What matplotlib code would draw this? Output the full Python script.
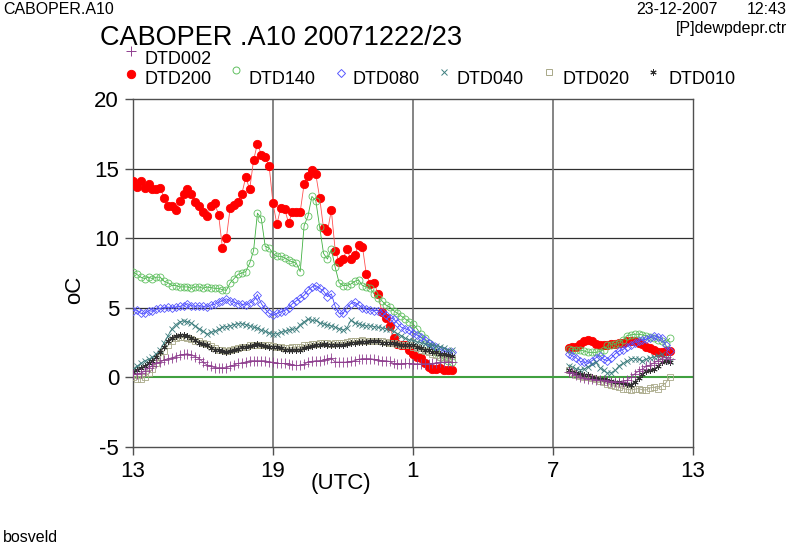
import numpy as np
import matplotlib
matplotlib.use("Agg")
import matplotlib.pyplot as plt
from matplotlib.lines import Line2D

plt.rcParams['font.family'] = ['Liberation Sans', 'DejaVu Sans']
plt.rcParams['axes.unicode_minus'] = False

# tijd: minuten na 13 UTC, stappen van 10 minuten
step_min = 10
start_left = 0        # 13:00
start_right = 1120    # 07:40 volgende dag

dtd200_l = [14.1, 13.7, 14.1, 13.6, 13.9, 13.5, 13.5, 13.6, 12.9, 12.3,
            12.3, 12.0, 12.7, 13.2, 13.5, 13.2, 12.6, 12.3, 11.9, 11.6,
            12.3, 12.5, 11.7, 9.3, 10.0, 12.2, 12.4, 12.6, 13.2, 14.4,
            13.5, 15.6, 16.8, 16.0, 15.8, 15.2, 12.5, 11.0, 12.2, 12.1,
            11.1, 11.9, 11.9, 11.9, 13.9, 14.5, 14.9, 14.6, 12.9, 10.7,
            10.5, 12.0, 9.1, 8.3, 8.5, 9.2, 8.5, 8.8, 9.5, 9.4,
            7.4, 6.7, 6.8, 6.0, 4.7, 4.3, 3.7, 2.8, 2.4, 2.35,
            2.3, 2.0, 1.7, 1.46, 1.4, 1.0, 0.74, 0.6, 0.6, 0.67,
            0.5, 0.5, 0.5]
dtd140_l = [7.6, 7.4, 7.2, 7.1, 7.2, 7.1, 7.2, 7.2, 6.9, 6.8,
            6.6, 6.6, 6.5, 6.5, 6.5, 6.4, 6.5, 6.5, 6.4, 6.5,
            6.45, 6.4, 6.4, 6.3, 6.25, 6.8, 7.1, 7.4, 7.5, 7.6,
            8.2, 9.1, 11.8, 11.4, 9.4, 9.3, 8.9, 8.7, 8.7, 8.6,
            8.4, 8.3, 8.2, 7.6, 10.9, 11.6, 13.0, 12.7, 10.8, 8.9,
            8.5, 9.2, 7.9, 6.8, 6.6, 6.6, 6.7, 6.9, 7.0, 6.6,
            6.5, 6.4, 6.0, 5.7, 5.5, 5.2, 5.05, 4.8, 4.6, 4.4,
            4.2, 4.0, 3.85, 3.5, 3.1, 2.8, 2.5, 2.1, 1.8, 1.5,
            1.3, 1.2, 1.1]
dtd080_l = [4.8, 4.85, 4.6, 4.6, 4.8, 4.75, 4.9, 4.95, 5.0, 5.05,
            5.0, 5.05, 5.1, 5.15, 5.3, 5.15, 5.1, 5.15, 5.1, 5.05,
            5.2, 5.25, 5.4, 5.5, 5.65, 5.5, 5.4, 5.3, 5.25, 5.2,
            5.35, 5.5, 5.95, 5.3, 4.9, 4.6, 4.45, 4.6, 4.7, 4.8,
            5.0, 5.3, 5.5, 5.7, 5.9, 6.25, 6.5, 6.6, 6.4, 6.2,
            5.8, 6.0, 5.1, 4.6, 4.6, 5.0, 5.3, 5.4, 5.2, 5.0,
            4.9, 4.85, 4.8, 4.8, 4.7, 4.5, 4.3, 4.2, 3.9, 3.6,
            3.5, 3.4, 3.2, 3.05, 2.9, 2.7, 2.5, 2.35, 2.2, 2.0,
            1.9, 1.85, 1.8]
dtd040_l = [0.6, 0.8, 1.0, 1.2, 1.3, 1.45, 1.7, 2.0, 2.5, 3.0,
            3.5, 3.8, 4.0, 4.05, 4.0, 3.9, 3.7, 3.5, 3.3, 3.1,
            3.25, 3.3, 3.45, 3.6, 3.65, 3.7, 3.8, 3.85, 3.85, 3.8,
            3.7, 3.6, 3.55, 3.4, 3.3, 3.2, 3.1, 3.15, 3.25, 3.3,
            3.4, 3.45, 3.5, 3.8, 4.0, 4.2, 4.1, 4.1, 3.9, 3.85,
            3.75, 3.7, 3.6, 3.5, 3.4, 3.55, 4.1, 3.9, 3.85, 3.75,
            3.7, 3.7, 3.65, 3.6, 3.55, 3.5, 3.45, 3.3, 3.15, 3.0,
            2.8, 2.7, 2.65, 2.55, 2.5, 2.4, 2.35, 2.3, 2.25, 2.2,
            2.1, 2.0, 1.95]
dtd020_l = [0.0, -0.1, -0.1, 0.0, 0.3, 0.6, 1.0, 1.45, 1.9, 2.3,
            2.6, 2.8, 2.9, 2.9, 2.85, 2.75, 2.65, 2.6, 2.5, 2.4,
            2.25, 2.1, 1.95, 1.95, 1.9, 2.0, 2.06, 2.1, 2.15, 2.2,
            2.3, 2.3, 2.35, 2.3, 2.3, 2.3, 2.25, 2.2, 2.15, 2.1,
            2.1, 2.15, 2.2, 2.2, 2.3, 2.35, 2.4, 2.4, 2.45, 2.5,
            2.45, 2.4, 2.45, 2.5, 2.5, 2.55, 2.6, 2.6, 2.65, 2.7,
            2.65, 2.6, 2.65, 2.6, 2.6, 2.55, 2.5, 2.45, 2.4, 2.35,
            2.3, 2.3, 2.2, 2.1, 2.0, 1.9, 1.8, 1.7, 1.6, 1.5,
            1.45, 1.4, 1.35]
dtd010_l = [0.4, 0.55, 0.7, 0.85, 1.0, 1.2, 1.5, 1.85, 2.2, 2.6,
            2.85, 3.0, 3.05, 3.05, 3.0, 2.85, 2.7, 2.5, 2.4, 2.3,
            2.1, 2.0, 1.95, 1.9, 1.8, 1.9, 2.0, 2.05, 2.15, 2.2,
            2.25, 2.3, 2.4, 2.3, 2.25, 2.2, 2.2, 2.2, 2.1, 2.0,
            1.95, 1.95, 1.95, 2.0, 2.1, 2.2, 2.25, 2.3, 2.35, 2.4,
            2.35, 2.35, 2.3, 2.3, 2.3, 2.4, 2.45, 2.5, 2.55, 2.55,
            2.55, 2.6, 2.6, 2.6, 2.5, 2.5, 2.5, 2.45, 2.4, 2.3,
            2.35, 2.35, 2.3, 2.2, 2.1, 2.0, 1.95, 1.85, 1.8, 1.7,
            1.65, 1.6, 1.55]
dtd002_l = [0.25, 0.25, 0.3, 0.45, 0.65, 0.85, 1.0, 1.1, 1.25, 1.35,
            1.4, 1.5, 1.6, 1.65, 1.7, 1.6, 1.5, 1.35, 1.1, 0.9,
            0.8, 0.7, 0.7, 0.7, 0.7, 0.8, 0.9, 1.0, 1.05, 1.1,
            1.2, 1.2, 1.2, 1.2, 1.2, 1.1, 1.1, 1.0, 1.0, 1.0,
            0.98, 0.9, 0.86, 0.86, 0.95, 1.1, 1.15, 1.2, 1.2, 1.25,
            1.3, 1.4, 1.1, 1.1, 1.1, 1.1, 1.15, 1.2, 1.3, 1.35,
            1.35, 1.35, 1.3, 1.25, 1.2, 1.2, 1.15, 1.0, 0.98, 0.98,
            1.0, 1.0, 0.98, 0.98, 0.98, 0.98, 0.98, 1.0, 1.05, 1.1,
            1.1, 1.1, 1.1]

dtd200_r = [2.1, 2.2, 2.2, 2.4, 2.6, 2.7, 2.6, 2.4, 2.3, 2.3,
            2.3, 2.4, 2.4, 2.5, 2.5, 2.6, 2.6, 2.6, 2.5, 2.4,
            2.2, 2.1, 2.0, 1.8, 1.8, 1.9, 1.9]
dtd140_r = [2.05, 2.0, 2.0, 1.95, 1.9, 1.8, 1.8, 1.8, 1.85, 2.0,
            2.3, 2.35, 2.4, 2.5, 2.7, 3.0, 3.05, 3.1, 3.1, 3.05,
            3.0, 2.9, 2.8, 2.7, 2.6, 2.5, 2.8]
dtd080_r = [1.7, 1.55, 1.4, 1.15, 1.1, 1.0, 1.2, 1.4, 1.55, 1.3,
            1.2, 1.4, 1.7, 1.9, 2.0, 2.2, 2.35, 2.5, 2.6, 2.7,
            2.75, 2.85, 3.0, 2.9, 2.8, 2.3, 1.9]
dtd040_r = [0.85, 0.75, 0.6, 0.55, 0.6, 0.75, 0.95, 1.1, 0.7, 0.5,
            0.3, 0.35, 0.5, 0.85, 1.0, 1.15, 1.35, 1.35, 1.3, 1.2,
            1.3, 1.4, 1.45, 1.55, 1.7, 1.4, 1.2]
dtd020_r = [0.5, 0.35, 0.2, 0.1, 0.05, 0.0, -0.05, -0.15, -0.25, -0.35,
            -0.45, -0.55, -0.65, -0.7, -0.8, -0.85, -0.9, -0.85, -0.8, -0.9,
            -0.9, -0.75, -0.7, -0.8, -0.6, -0.4, 0.0]
dtd010_r = [0.5, 0.4, 0.3, 0.25, 0.2, 0.15, 0.05, -0.05, -0.1, -0.15,
            -0.2, -0.25, -0.3, -0.35, -0.4, -0.5, -0.55, -0.3, -0.05, 0.25,
            0.45, 0.55, 0.6, 0.8, 1.1, 1.2, 1.1]
dtd002_r = [0.4, 0.3, 0.15, 0.05, -0.05, -0.1, -0.15, -0.2, -0.2, -0.2,
            -0.25, -0.3, -0.3, -0.35, -0.3, -0.2, 0.0, 0.25, 0.45, 0.6,
            0.8, 0.9, 1.05, 1.2, 1.35, 1.45, 1.35]

names = ['DTD200', 'DTD140', 'DTD080', 'DTD040', 'DTD020', 'DTD010', 'DTD002']
left = [dtd200_l, dtd140_l, dtd080_l, dtd040_l, dtd020_l, dtd010_l, dtd002_l]
right = [dtd200_r, dtd140_r, dtd080_r, dtd040_r, dtd020_r, dtd010_r, dtd002_r]

xtick_pos = [0, 6, 12, 18, 24]
xtick_lab = ['13', '19', '1', '7', '13']

# stijl per reeks
styles = {
    'DTD200': dict(color='#ff5050', marker='o', mec='#ff0000', mfc='#ff0000', ms=6),
    'DTD140': dict(color='#40b040', marker='o', mec='#60c060', mfc='none', ms=5),
    'DTD080': dict(color='#4040ff', marker='D', mec='#5858ff', mfc='none', ms=4.2),
    'DTD040': dict(color='#3f7f7f', marker='x', mec='#3f7f7f', mfc='none', ms=5),
    'DTD020': dict(color='#a0a080', marker='s', mec='#a8a888', mfc='none', ms=5),
    'DTD010': dict(color='#303030', marker=(6, 2, 0), mec='#303030', mfc='none', ms=4.5),
    'DTD002': dict(color='#8f3f8f', marker='+', mec='#8f3f8f', mfc='none', ms=6.5),
}

fig = plt.figure(figsize=(7.9, 5.45), dpi=100)
ax = fig.add_axes([133 / 790, 1 - 447 / 545, 560 / 790, 348 / 545])

for name, yl, yr in zip(names, left, right):
    st = styles[name]
    tl = (start_left + step_min * np.arange(len(yl))) / 60.0
    tr = (start_right + step_min * np.arange(len(yr))) / 60.0
    for t, y in ((tl, yl), (tr, yr)):
        ax.plot(t, y, color=st['color'], lw=0.6, marker=st['marker'],
                mec=st['mec'], mfc=st['mfc'], ms=st['ms'], mew=0.6, zorder=3)

ax.axhline(0, color='#40a040', lw=1.5, zorder=2)
for yv in (5, 10, 15):
    ax.axhline(yv, color='#303030', lw=0.9, zorder=1)
for xv in (6, 12, 18):
    ax.axvline(xv, color='#707070', lw=1.2, zorder=1)

ax.set_xlim(0, 24)
ax.set_ylim(-5, 20)
ax.set_xticks(xtick_pos)
ax.set_xticklabels(xtick_lab)
ax.set_yticks([-5, 0, 5, 10, 15, 20])
ax.tick_params(direction='out', length=6, width=1, color='#505050',
               labelsize=16, pad=4)
for sp in ax.spines.values():
    sp.set_color('#505050')
    sp.set_linewidth(1)

fig.text(75 / 790, 1 - 290 / 545, 'oC', rotation=90, fontsize=16,
         ha='center', va='center')
fig.text(341 / 790, 1 - 483 / 545, '(UTC)', fontsize=16, ha='center', va='center')

# koppen
fig.text(3 / 790, 1 - 10 / 545, 'CABOPER.A10', fontsize=11.5, ha='left', va='center')
fig.text(718 / 790, 1 - 10 / 545, '23-12-2007', fontsize=11.5, ha='right', va='center')
fig.text(787 / 790, 1 - 10 / 545, '12:43', fontsize=11.5, ha='right', va='center')
fig.text(787 / 790, 1 - 28 / 545, '[P]dewpdepr.ctr', fontsize=11.5, ha='right', va='center')
fig.text(100 / 790, 1 - 38 / 545, 'CABOPER .A10 20071222/23', fontsize=19.5,
         ha='left', va='center')
fig.text(3 / 790, 1 - 537 / 545, 'bosveld', fontsize=11.5, ha='left', va='center')

# legenda: marker x, tekst x, marker y, tekst y (pixels)
leg_pos = {
    'DTD002': (131, 145, 51, 59),
    'DTD200': (131, 145, 74, 79),
    'DTD140': (236, 249, 70, 79),
    'DTD080': (341, 352, 73, 79),
    'DTD040': (444, 457, 72, 79),
    'DTD020': (549, 562, 72, 79),
    'DTD010': (653, 668, 72, 79),
}
for name in names:
    st = styles[name]
    mx, tx, my, ty = leg_pos[name]
    fig.add_artist(Line2D([mx / 790], [1 - my / 545], transform=fig.transFigure,
                          marker=st['marker'], mec=st['mec'], mfc=st['mfc'],
                          ms=st['ms'], mew=0.7, ls='none'))
    fig.text(tx / 790, 1 - ty / 545, name, fontsize=13, ha='left', va='center')

fig.savefig('out.png', dpi=100)
